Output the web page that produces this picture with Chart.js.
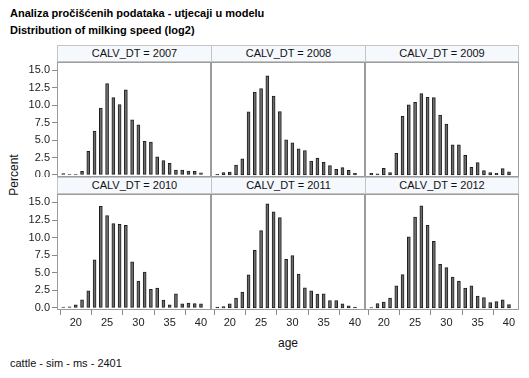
<!DOCTYPE html>
<html>
<head>
<meta charset="utf-8">
<script src="https://cdn.jsdelivr.net/npm/chart.js@4"></script>
<style>
  html, body { margin:0; padding:0; background:#fff; }
  body { width:529px; height:378px; position:relative; overflow:hidden; font-family:"Liberation Sans", Arial, sans-serif; }
  .abs { position:absolute; }
  .title { left:10px; font-weight:bold; font-size:11px; color:#000; white-space:nowrap; }
  .hdr { box-sizing:border-box; height:17px; border:1px solid #c4c4c4; background:#f5f8fd; font-size:11px; color:#111; text-align:center; line-height:15px; white-space:nowrap; }
  .frame { box-sizing:border-box; border:1px solid #9c9c9c; pointer-events:none; }
  canvas { position:absolute; }
</style>
</head>
<body>
<div class="abs title" style="top:7px;">Analiza pročišćenih podataka - utjecaji u modelu</div>
<div class="abs title" style="top:24px;">Distribution of milking speed (log2)</div>
<div class="abs" style="left:-11px; top:168px; width:50px; text-align:center; font-size:12px; transform:rotate(-90deg); color:#111;">Percent</div>
<div class="abs" style="left:263px; top:336px; width:50px; text-align:center; font-size:12px; color:#111;">age</div>
<div class="abs" style="left:10px; top:357px; font-size:11px; color:#111; white-space:nowrap;">cattle - sim - ms - 2401</div>
<div id="root"></div>
<script>
// ---- data ----
const years = ["2007", "2008", "2009", "2010", "2011", "2012"];
const ages = [18,19,20,21,22,23,24,25,26,27,28,29,30,31,32,33,34,35,36,37,38,39,40];
const pct2007 = [0.2,0.1,0.1,0.5,3.4,6.3,9.6,13.1,11.1,10.1,12.2,7.9,7.2,4.8,4.7,2.6,2.05,1.65,0.7,0.7,0.55,0.5,0.3];
const pct2008 = [0.1,0.33,0.4,1.4,2.3,9.05,11.9,12.4,14.2,11.3,9.1,5.05,4.6,3.75,3.5,2.0,2.4,1.8,1.33,0.8,1.05,0.67,0.24];
const pct2009 = [0.24,0.14,0.95,0.33,3.1,8.4,10.05,10.4,11.67,11.14,11.1,8.6,7.3,4.33,4.3,2.8,1.1,1.76,0.62,0.33,0.24,0.9,0.43];
const pct2010 = [0.1,0.14,0.43,1.15,2.44,6.83,14.43,13.14,12.0,11.9,11.75,6.55,3.82,5.1,2.63,2.82,1.1,0.43,2.0,0.57,0.67,0.62,0.57];
const pct2011 = [0.1,0.2,0.57,1.4,2.25,4.7,8.2,11.0,14.8,13.67,12.85,6.9,7.45,4.8,2.87,2.44,1.96,2.0,1.05,1.05,0.57,0.29,0.1];
const pct2012 = [0.05,0.62,0.81,1.4,3.15,4.73,10.1,12.9,14.5,11.75,9.45,6.2,5.73,4.4,3.8,2.82,3.15,1.67,1.48,0.76,0.9,1.15,0.48];
const seriesByYear = [pct2007, pct2008, pct2009, pct2010, pct2011, pct2012];
const yTicks = [0, 2.5, 5, 7.5, 10, 12.5, 15];
const xTicks = [20, 25, 30, 35, 40];

// ---- layout ----
const colX = [57, 211, 365, 519];
const rows = [ {hdrTop:45, top:62, bottom:177}, {hdrTop:177, top:194, bottom:310} ];
const AXIS_W = 57, XAXIS_H = 20;
const root = document.getElementById('root');
const tickFont = { family: "Liberation Sans, Arial, sans-serif", size: 11 };

years.forEach((yr, i) => {
  const r = Math.floor(i / 3), c = i % 3;
  const row = rows[r];
  const left = c === 0;
  const bottom = r === 1;
  // header
  const h = document.createElement('div');
  h.className = 'abs hdr';
  h.style.left = colX[c] + 'px';
  h.style.top = row.hdrTop + 'px';
  h.style.width = (colX[c+1] - colX[c] + (c < 2 ? 1 : 0)) + 'px';
  h.textContent = 'CALV_DT = ' + yr;
  root.appendChild(h);
  // canvas
  const cv = document.createElement('canvas');
  const cx = left ? 0 : colX[c];
  const cw = colX[c+1] - cx;
  const ch = (row.bottom - row.top) + (bottom ? XAXIS_H : 0);
  cv.width = cw; cv.height = ch;
  cv.style.left = cx + 'px'; cv.style.top = row.top + 'px';
  cv.style.width = cw + 'px'; cv.style.height = ch + 'px';
  root.appendChild(cv);
  // frame
  const f = document.createElement('div');
  f.className = 'abs frame';
  f.style.left = colX[c] + 'px';
  f.style.top = row.top + 'px';
  f.style.width = (colX[c+1] - colX[c]) + 'px';
  f.style.height = (row.bottom - row.top) + 'px';
  root.appendChild(f);

  const vals = seriesByYear[i];
  new Chart(cv, {
    type: 'bar',
    data: {
      datasets: [{
        data: ages.map((a, k) => ({ x: a, y: vals[k] })),
        backgroundColor: '#6c6c6c',
        borderColor: '#1e1e1e',
        borderWidth: 1,
        barThickness: 3,
        borderSkipped: false
      }]
    },
    options: {
      responsive: false,
      animation: false,
      devicePixelRatio: 1,
      layout: { padding: 0 },
      plugins: { legend: { display: false }, tooltip: { enabled: false } },
      scales: {
        x: {
          type: 'linear', min: 17, max: 41.6, offset: false,
          display: bottom,
          grid: { display: true, drawOnChartArea: false, drawTicks: true, tickLength: 5, color: '#8a8a8a' },
          border: { display: false },
          ticks: { font: tickFont, color: '#222', padding: 1, maxRotation: 0, autoSkip: false },
          afterBuildTicks: s => { s.ticks = xTicks.map(v => ({ value: v })); },
          afterFit: s => { s.height = bottom ? XAXIS_H : 0; s.paddingLeft = 0; s.paddingRight = 0; s.paddingTop = 0; s.paddingBottom = 0; }
        },
        y: {
          type: 'linear', min: -0.3, max: 16.2,
          display: left,
          grid: { display: true, drawOnChartArea: false, drawTicks: true, tickLength: 5, color: '#8a8a8a' },
          border: { display: false },
          ticks: { font: tickFont, color: '#222', padding: 2, callback: v => Number(v).toFixed(1) },
          afterBuildTicks: s => { s.ticks = yTicks.map(v => ({ value: v })); },
          afterFit: s => { s.width = left ? AXIS_W : 0; s.paddingTop = 0; s.paddingBottom = 0; s.paddingLeft = 0; s.paddingRight = 0; }
        }
      }
    }
  });
});
</script>
</body>
</html>
